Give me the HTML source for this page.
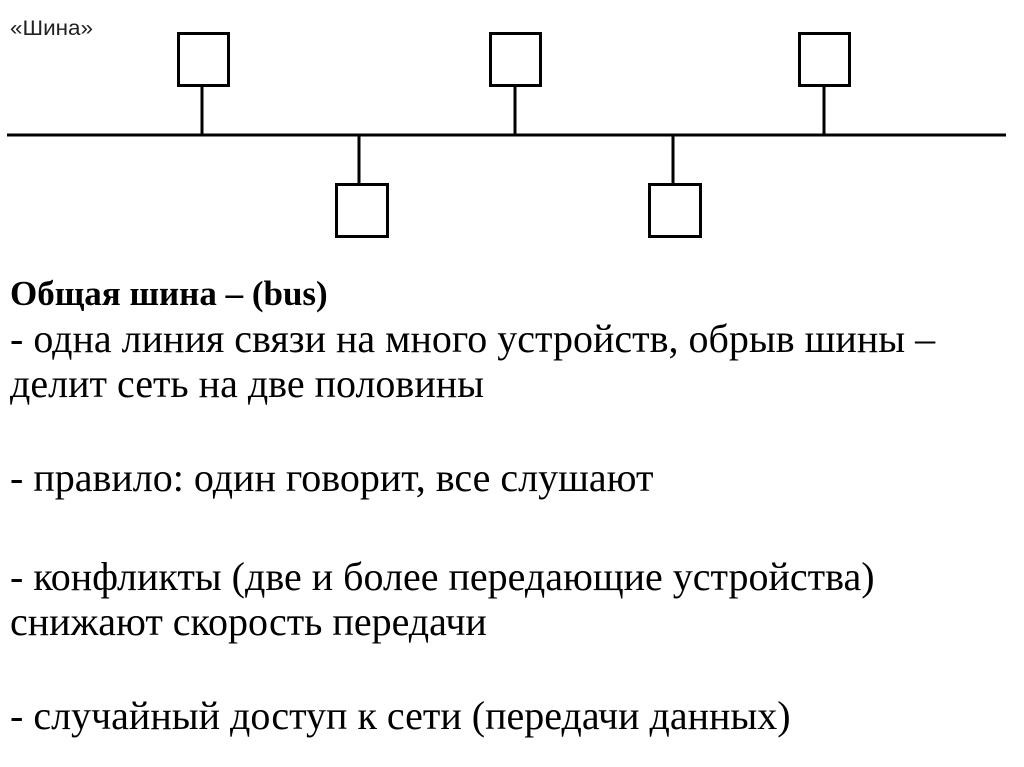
<!DOCTYPE html>
<html><head><meta charset="utf-8"><style>
body{margin:0;background:#fff;width:1024px;height:767px;overflow:hidden;position:relative}
.t{position:absolute;left:10px;font-family:"Liberation Serif",serif;font-size:40px;color:#000;white-space:nowrap;line-height:1}
.h{font-size:35px;font-weight:bold}
</style></head><body>
<svg width="1024" height="270" style="position:absolute;left:0;top:0">
<text x="10" y="35" font-family="Liberation Sans, sans-serif" font-size="21" fill="#222" textLength="83" lengthAdjust="spacingAndGlyphs">«Шина»</text>
<g stroke="#000" stroke-width="3" fill="none">
<line x1="7" y1="135" x2="1006" y2="135"/>
<rect x="178.5" y="33.5" width="50" height="52"/><line x1="202" y1="86" x2="202" y2="135"/>
<rect x="490.5" y="33.5" width="50" height="52"/><line x1="515" y1="86" x2="515" y2="135"/>
<rect x="799.5" y="33.5" width="50" height="52"/><line x1="824" y1="86" x2="824" y2="135"/>
<rect x="336.5" y="184.5" width="51" height="52"/><line x1="359" y1="135" x2="359" y2="184"/>
<rect x="649.5" y="184.5" width="51" height="52"/><line x1="673" y1="135" x2="673" y2="184"/>
</g></svg>
<div class="t h" style="top:276px">Общая шина – (bus)</div>
<div class="t" style="top:319px">- одна линия связи на много устройств, обрыв шины –</div>
<div class="t" style="top:364px">делит сеть на две половины</div>
<div class="t" style="top:458px">- правило: один говорит, все слушают</div>
<div class="t" style="top:557px">- конфликты (две и более передающие устройства)</div>
<div class="t" style="top:602px">снижают скорость передачи</div>
<div class="t" style="top:696px">- случайный доступ к сети (передачи данных)</div>
</body></html>
